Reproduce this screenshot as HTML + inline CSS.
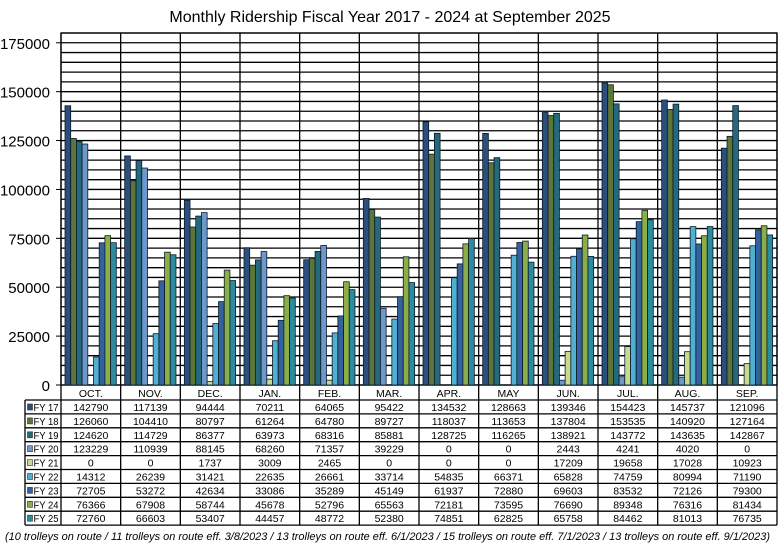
<!DOCTYPE html>
<html><head><meta charset="utf-8"><style>
body{margin:0;background:#fff;width:781px;height:544px;overflow:hidden}
svg{display:block;font-family:"Liberation Sans",Arial,sans-serif}
</style></head><body>
<svg id="c" width="781" height="544"></svg>
<script>
const months=["OCT.","NOV.","DEC.","JAN.","FEB.","MAR.","APR.","MAY","JUN.","JUL.","AUG.","SEP."];
const seriesNames=["FY 17","FY 18","FY 19","FY 20","FY 21","FY 22","FY 23","FY 24","FY 25"];
const fy17=[142790,117139,94444,70211,64065,95422,134532,128663,139346,154423,145737,121096];
const fy18=[126060,104410,80797,61264,64780,89727,118037,113653,137804,153535,140920,127164];
const fy19=[124620,114729,86377,63973,68316,85881,128725,116265,138921,143772,143635,142867];
const fy20=[123229,110939,88145,68260,71357,39229,0,0,2443,4241,4020,0];
const fy21=[0,0,1737,3009,2465,0,0,0,17209,19658,17028,10923];
const fy22=[14312,26239,31421,22635,26661,33714,54835,66371,65828,74759,80994,71190];
const fy23=[72705,53272,42634,33086,35289,45149,61937,72880,69603,83532,72126,79300];
const fy24=[76366,67908,58744,45678,52796,65563,72181,73595,76690,89348,76316,81434];
const fy25=[72760,66603,53407,44457,48772,52380,74851,62825,65758,84462,81013,76735];
const series=[fy17,fy18,fy19,fy20,fy21,fy22,fy23,fy24,fy25];
const yTicks=[0,25000,50000,75000,100000,125000,150000,175000];
const colors=["#2b4e7c","#5b7638","#256a7c","#6e98cc","#c6dc8c","#4fb0d2","#33629e","#8cae46","#2a8c9e"];
const NS="http://www.w3.org/2000/svg";
const svg=document.getElementById('c');
const L=61,R=777,T=33,B=385,YMAX=180000;
const cw=(R-L)/months.length;
const y=v=>B-(v/YMAX)*(B-T);
const x=i=>L+i*cw;
function el(t,a,txt){const e=document.createElementNS(NS,t);for(const k in a)e.setAttribute(k,a[k]);if(txt!=null)e.textContent=txt;svg.appendChild(e);return e;}
let t=el('text',{x:390,y:22,'text-anchor':'middle','font-size':16,fill:'#000'},'Monthly Ridership Fiscal Year 2017 - 2024 at September 2025');


for(let v=0;v<=YMAX;v+=5000){let g=el('line',{x1:L,x2:R,y1:y(v),y2:y(v),stroke:'#000','stroke-width':1.3});

}
yTicks.forEach(v=>{let l=el('text',{x:50,y:y(v)+6,'text-anchor':'end','font-size':15,fill:'#000'},v);


el('line',{x1:L-5,x2:L,y1:y(v),y2:y(v),stroke:'#000'});});
for(let i=0;i<=months.length;i++){el('line',{x1:x(i),x2:x(i),y1:T,y2:525,stroke:'#000','stroke-width':1.3});}
el('rect',{x:L,y:T,width:R-L,height:B-T,fill:'none',stroke:'#000','stroke-width':1.3});
const bw=5.7;
months.forEach((m,i)=>{series.forEach((s,j)=>{
 const v=s[i];if(v<=0)return;
 let r=el('rect',{x:x(i)+4+j*bw,y:y(v),width:bw,height:B-y(v),fill:colors[j],stroke:'#0b1a2a','stroke-width':0.8});
 
 
});});
const rowH=13.9,TT=400;
el('line',{x1:25,x2:R,y1:TT,y2:TT,stroke:'#000','stroke-width':1.3});
el('line',{x1:25,x2:25,y1:TT,y2:TT+rowH*9,stroke:'#000','stroke-width':1.3});
months.forEach((m,i)=>{let h=el('text',{x:x(i)+cw/2,y:397,'text-anchor':'middle','font-size':10.5,fill:'#000'},m);

});
seriesNames.forEach((n,j)=>{
 const ry=TT+j*rowH;
 el('line',{x1:25,x2:R,y1:ry+rowH,y2:ry+rowH,stroke:'#000','stroke-width':1.3});
 let k=el('rect',{x:27.5,y:ry+4,width:5,height:6,fill:colors[j],stroke:'#333','stroke-width':0.6});
 
 
 let lt=el('text',{x:33.5,y:ry+11,'font-size':10,fill:'#000',textLength:25,lengthAdjust:'spacingAndGlyphs'},n);
 
 
 months.forEach((m,i)=>{let c=el('text',{x:x(i)+cw/2,y:ry+11,'text-anchor':'middle','font-size':10.5,fill:'#000'},series[j][i]);
 
 });
});
let f=el('text',{x:5,y:540,'font-size':11,'font-style':'italic',fill:'#000',textLength:765,lengthAdjust:'spacingAndGlyphs'},'(10 trolleys on route / 11 trolleys on route eff. 3/8/2023 / 13 trolleys on route eff. 6/1/2023 / 15 trolleys on route eff. 7/1/2023 / 13 trolleys on route eff. 9/1/2023)');


</script>
</body></html>
